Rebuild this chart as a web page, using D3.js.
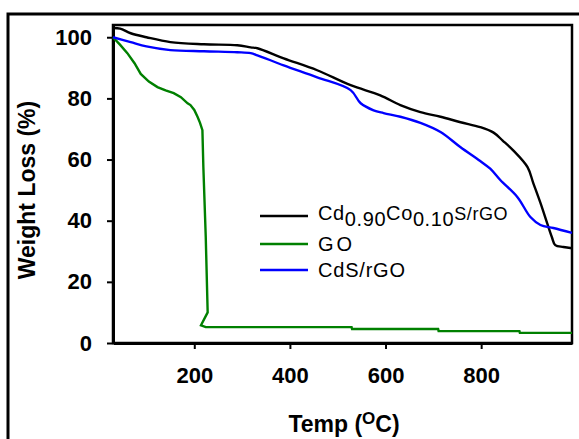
<!DOCTYPE html>
<html>
<head>
<meta charset="utf-8">
<script src="https://cdn.jsdelivr.net/npm/d3@7"></script>
<style>
  body { margin: 0; background: #fff; }
  svg { display: block; font-family: Arial, "Liberation Sans", sans-serif; }
</style>
</head>
<body>
<main></main>
<script>
// temperature (C) vs weight (%)
const cdcoTemp = [30, 45, 67, 100, 150, 220, 290, 318, 332, 387, 457, 527, 589, 631, 673, 715, 757, 798, 826, 845, 867, 897, 909, 924, 938, 948, 955, 972, 990]
const cdcoWeight = [103, 102.8, 101.3, 100, 98.4, 97.7, 97.4, 96.7, 96.4, 93.1, 89.2, 84.3, 81, 77.8, 75.5, 74, 72.2, 70.6, 68.8, 66.2, 63, 57.5, 52.3, 45.8, 39.2, 34.6, 32, 31.4, 31]

const goTemp = [30, 45, 60, 75, 88, 105, 123, 140, 157, 172, 186, 192, 200, 207, 212, 217, 219, 224, 228, 214, 224, 529, 530, 710, 711, 880, 881, 990]
const goWeight = [100, 97.5, 94.8, 91.5, 88, 85.5, 83.7, 82.6, 81.7, 80.4, 78.4, 77.8, 76.2, 73.9, 72, 69.6, 57.5, 34.6, 10, 5.8, 5.2, 5.2, 4.6, 4.6, 3.9, 3.9, 3.3, 3.3]

const cdsTemp = [30, 67, 100, 150, 220, 290, 318, 332, 387, 457, 527, 548, 575, 596, 631, 673, 715, 757, 798, 819, 840, 876, 903, 924, 951, 990]
const cdsWeight = [100, 98.4, 97, 95.8, 95.4, 95.1, 94.8, 94.1, 90.8, 86.9, 82.7, 78.4, 76.1, 75.2, 74, 72, 69, 64, 59.5, 57, 53.3, 47.7, 41.2, 38.6, 37.6, 36]

const xTicks = [200, 400, 600, 800]
const yTicks = [0, 20, 40, 60, 80, 100]

const seriesNames = ['cdco', 'go', 'cds']
const seriesColors = ['#000000', '#008000', '#0000ff']

const W = 579, H = 439
const plot = { left: 113, right: 572, top: 25, bottom: 343 }

const svg = d3.select('main').append('svg')
    .attr('width', W)
    .attr('height', H)

// outer frame (runs off the picture on right and bottom)
svg.append('rect')
    .attr('x', 8).attr('y', 14)
    .attr('width', 600).attr('height', 500)
    .attr('fill', 'none')
    .attr('stroke', '#000')
    .attr('stroke-width', 3)

const x = d3.scaleLinear().domain([30, 990]).range([plot.left, plot.right])
const y = d3.scaleLinear().domain([0, 104]).range([plot.bottom, plot.top])

// plot box
svg.append('rect')
    .attr('x', plot.left).attr('y', plot.top)
    .attr('width', plot.right - plot.left)
    .attr('height', plot.bottom - plot.top)
    .attr('fill', 'none')
    .attr('stroke', '#000')
    .attr('stroke-width', 2.5)

const xAxis = svg.append('g')
    .attr('transform', 'translate(0,' + plot.bottom + ')')
    .call(d3.axisBottom(x).tickValues(xTicks).tickSize(6).tickSizeOuter(0).tickPadding(18))
const yAxis = svg.append('g')
    .attr('transform', 'translate(' + plot.left + ',0)')
    .call(d3.axisLeft(y).tickValues(yTicks).tickSize(6).tickSizeOuter(0).tickPadding(15))

;[xAxis, yAxis].forEach(g => {
    g.select('.domain').attr('stroke-width', 3)
    g.selectAll('.tick line').attr('stroke-width', 2)
    g.selectAll('.tick text')
        .attr('font-size', 22)
        .attr('font-weight', 'bold')
        .attr('font-family', 'Arial, "Liberation Sans", sans-serif')
        .attr('fill', '#000')
})

// curves
const smooth = d3.line().curve(d3.curveCatmullRom.alpha(0.5)).x(d => x(d[0])).y(d => y(d[1]))
const straight = d3.line().x(d => x(d[0])).y(d => y(d[1]))
const series = [
    d3.zip(cdcoTemp, cdcoWeight),
    d3.zip(goTemp, goWeight),
    d3.zip(cdsTemp, cdsWeight)
]
series.forEach((s, i) => {
    svg.append('path')
        .datum(s)
        .attr('class', seriesNames[i])
        .attr('d', seriesNames[i] === 'go' ? straight : smooth)
        .attr('fill', 'none')
        .attr('stroke', seriesColors[i])
        .attr('stroke-width', 2.4)
})

// axis titles
svg.append('text')
    .attr('transform', 'translate(35,190) rotate(-90)')
    .attr('text-anchor', 'middle')
    .attr('font-size', 23)
    .attr('font-weight', 'bold')
    .text('Weight Loss (%)')

const xt = svg.append('text')
    .attr('x', 344).attr('y', 432)
    .attr('text-anchor', 'middle')
    .attr('font-size', 23)
    .attr('font-weight', 'bold')
xt.append('tspan').text('Temp (')
xt.append('tspan').attr('dy', -8).attr('font-size', 17).text('O')
xt.append('tspan').attr('dy', 8).text('C)')

// legend
const legendRows = [216, 244, 270]
const legend = svg.append('g')
legendRows.forEach((ly, i) => {
    legend.append('line')
        .attr('x1', 260).attr('x2', 308)
        .attr('y1', ly).attr('y2', ly)
        .attr('stroke', seriesColors[i])
        .attr('stroke-width', 2.4)
})
const l1 = legend.append('text').attr('x', 318).attr('y', 220).attr('font-size', 20).attr('letter-spacing', 0.6)
l1.append('tspan').text('Cd')
l1.append('tspan').attr('dy', 6).text('0.90')
l1.append('tspan').attr('dy', -6).text('Co')
l1.append('tspan').attr('dy', 6).text('0.10')
l1.append('tspan').attr('dy', -6).attr('font-size', 18).text('S/rGO')
legend.append('text').attr('x', 318).attr('y', 251).attr('font-size', 20)
    .attr('letter-spacing', 3).text('GO')
legend.append('text').attr('x', 318).attr('y', 277).attr('font-size', 20)
    .attr('letter-spacing', 0.8).text('CdS/rGO')
</script>
</body>
</html>
